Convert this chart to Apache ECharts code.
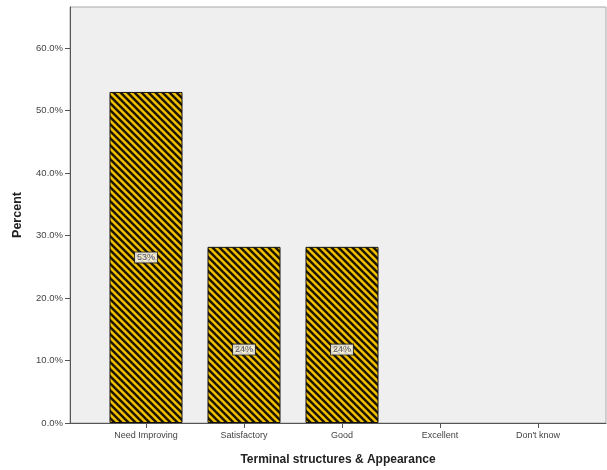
<!DOCTYPE html>
<html>
<head>
<meta charset="utf-8">
<script src="https://cdn.jsdelivr.net/npm/echarts@6/dist/echarts.min.js"></script>
<style>
html,body{margin:0;padding:0;background:#fff;}
#c{width:607px;height:470px;}
</style>
</head>
<body>
<div id="c"></div>
<script>
// Data
var categories = ['Need Improving', 'Satisfactory', 'Good', 'Excellent', "Don't know"];
var barValues = [53, 28.2, 28.2, null, null];          // bar heights as drawn (%)
var labelValues = [53, 23.5, 23.5, null, null];        // percentages shown in the labels
var yTicks = [0, 10, 20, 30, 40, 50, 60];
var yMax = 66.6;

// Hatch pattern
function makePattern() {
  var p = 7;
  var cv = document.createElement('canvas');
  cv.width = p; cv.height = p;
  var ctx = cv.getContext('2d');
  ctx.fillStyle = '#f2c200';
  ctx.fillRect(0, 0, p, p);
  ctx.strokeStyle = '#1e1500';
  ctx.lineWidth = 2.5;
  for (var k = -1; k <= 1; k++) {
    ctx.beginPath();
    ctx.moveTo(-1, k * p - 1);
    ctx.lineTo(p + 1, p + k * p + 1);
    ctx.stroke();
  }
  return cv;
}

var chart = echarts.init(document.getElementById('c'), null, {renderer: 'canvas'});
var font = 'Liberation Sans, Arial, sans-serif';

var option = {
  animation: false,
  backgroundColor: '#ffffff',
  grid: [
    {left: 70, right: 1, top: 7, bottom: 47, containLabel: false, outerBoundsMode: 'none',
     show: true, backgroundColor: '#efefef', borderColor: '#a8a8a8', borderWidth: 1},
    {left: 97, right: 20, top: 7, bottom: 47, containLabel: false, outerBoundsMode: 'none'}
  ],
  xAxis: [
    {
      gridIndex: 0, type: 'category', data: categories,
      axisLine: {show: true, lineStyle: {color: '#555', width: 1}},
      axisTick: {show: false}, axisLabel: {show: false},
      name: 'Terminal structures & Appearance', nameLocation: 'middle', nameGap: 31,
      nameTextStyle: {fontFamily: font, fontWeight: 'bold', fontSize: 12, color: '#222'}
    },
    {
      gridIndex: 1, type: 'category', data: categories,
      axisLine: {show: false},
      axisTick: {show: true, alignWithLabel: true, length: 5, lineStyle: {color: '#555'}},
      axisLabel: {fontFamily: font, fontSize: 9, color: '#444', margin: 8}
    }
  ],
  yAxis: [
    {
      gridIndex: 0, type: 'value', min: 0, max: yMax, interval: 10,
      axisLine: {show: true, lineStyle: {color: '#555', width: 1}},
      axisTick: {show: true, length: 5, lineStyle: {color: '#555'}, customValues: yTicks},
      axisLabel: {fontFamily: font, fontSize: 9.5, color: '#444', margin: 7, customValues: yTicks,
        formatter: function (v) { return v.toFixed(1) + '%'; }},
      splitLine: {show: false},
      name: 'Percent', nameLocation: 'middle', nameGap: 46, nameRotate: 90,
      nameTextStyle: {fontFamily: font, fontWeight: 'bold', fontSize: 12.5, color: '#222'}
    },
    {
      gridIndex: 1, type: 'value', min: 0, max: yMax, interval: 10, show: false,
      splitLine: {show: false}
    }
  ],
  series: [
    {
      type: 'bar', xAxisIndex: 1, yAxisIndex: 1,
      data: barValues, barWidth: 73,
      itemStyle: {color: {image: makePattern(), repeat: 'repeat'}, borderColor: '#111', borderWidth: 1}
    },
    {
      type: 'scatter', xAxisIndex: 1, yAxisIndex: 1,
      symbolSize: 0, silent: true,
      data: labelValues.map(function (v) { return v == null ? null : v / 2; }),
      label: {
        show: true, position: 'inside',
        formatter: function (p) { return Math.round(labelValues[p.dataIndex]) + '%'; },
        fontFamily: font, fontSize: 9, color: '#334',
        backgroundColor: '#ffffff', borderColor: '#222', borderWidth: 1,
        padding: [1, 2, 0, 2]
      }
    }
  ]
};
chart.setOption(option);
</script>
</body>
</html>
